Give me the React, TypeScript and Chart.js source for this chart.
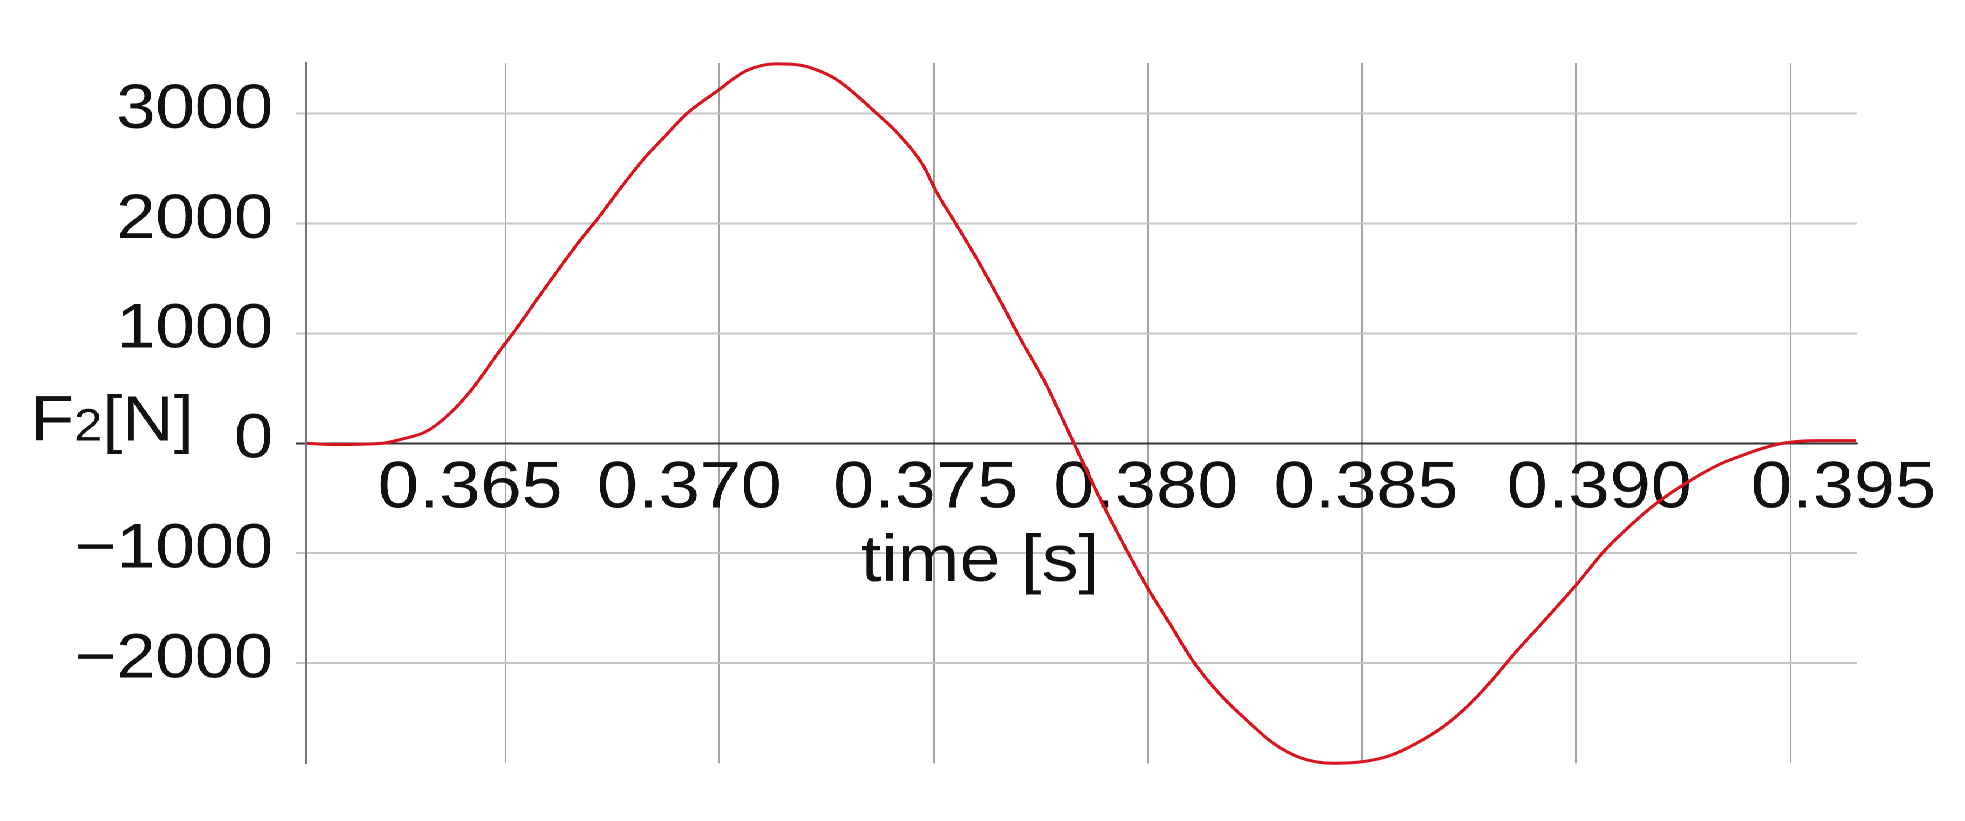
import { useEffect, useRef } from "react";
import { Chart, registerables } from "chart.js";

Chart.register(...registerables);

// time [s]
const times = [
	0.36037, 0.36098, 0.36214, 0.36254, 0.36316, 0.36371, 0.36424, 0.36487,
	0.36518, 0.36596, 0.36674, 0.36717, 0.36768, 0.36822, 0.36877, 0.36923,
	0.36993, 0.37063, 0.37133, 0.37188, 0.3725, 0.37281, 0.37359, 0.37421,
	0.37476, 0.37507, 0.37553, 0.37608, 0.3767, 0.37701, 0.37764, 0.37795,
	0.37828, 0.37888, 0.37942, 0.37997, 0.38051, 0.38106, 0.38165, 0.38228,
	0.38293, 0.38355, 0.38433, 0.38503, 0.38565, 0.38627, 0.38689, 0.38744,
	0.388, 0.38861, 0.38931, 0.39001, 0.39063, 0.39102, 0.3918, 0.39258,
	0.39335, 0.39374, 0.39436, 0.39483, 0.39561, 0.39654,
];

// F2 [N]
const forces = [
	0, -12, 0, 33, 108, 272, 500, 840,
	1000, 1428, 1842, 2049, 2315, 2581, 2810, 2996,
	3200, 3390, 3452, 3441, 3360, 3290, 3030, 2800,
	2525, 2285, 1990, 1630, 1190, 961, 525, 270,
	-5, -500, -910, -1300, -1640, -1985, -2270, -2510,
	-2730, -2860, -2912, -2896, -2842, -2730, -2580, -2400,
	-2170, -1890, -1590, -1283, -990, -836, -567, -358,
	-190, -130, -45, 0, 24, 24,
];

const xTicks = [0.365, 0.37, 0.375, 0.38, 0.385, 0.39, 0.395];
const yTicks = [-2000, -1000, 0, 1000, 2000, 3000];
const xRange = [0.360345, 0.396551];
const yRange = [-2911, 3460];

const FONT = '"Liberation Sans", Arial, sans-serif';
const STRETCH = 1.12; // source picture is a little wider than tall
// the x tick labels in the source sit a bit off their grid lines
const xLabelShift = [-35, -30, -8, -2, 4, 23, 53];

const fmtY = (v: number) => (v < 0 ? "\u2212" + Math.abs(v) : String(v));

const axisText = {
	id: "axisText",
	beforeDatasetsDraw(chart) {
		const { ctx } = chart;
		const xs = chart.scales.x;
		const y0 = chart.scales.y.getPixelForValue(0);
		ctx.save();
		ctx.fillStyle = "#111";
		ctx.textBaseline = "alphabetic";

		// x tick labels along the zero line
		ctx.font = `66px ${FONT}`;
		ctx.textAlign = "center";
		xs.ticks.forEach((t, i) => {
			const px = xs.getPixelForValue(t.value) + (xLabelShift[i] || 0) / STRETCH;
			ctx.fillText(Number(t.value).toFixed(3), px, y0 + 64);
		});

		ctx.fillText("time [s]", 875, 581);

		// F2[N]
		ctx.textAlign = "left";
		let x = 27;
		const base = y0 - 3;
		ctx.font = `64px ${FONT}`;
		ctx.fillText("F", x, base);
		x += ctx.measureText("F").width;
		ctx.font = `45px ${FONT}`;
		ctx.fillText("2", x, base);
		x += ctx.measureText("2").width;
		ctx.font = `64px ${FONT}`;
		ctx.fillText("[N]", x, base);
		ctx.restore();
	},
};

const ForceChart = () => {
	const chartRef = useRef<HTMLCanvasElement | null>(null);

	useEffect(() => {
		const chart = new Chart(chartRef.current, {
			type: "line",
			data: {
				datasets: [
					{
						data: times.map((t, i) => ({ x: t, y: forces[i] })),
						borderColor: "#d8141e",
						borderWidth: 3,
						pointRadius: 0,
						cubicInterpolationMode: "monotone",
						fill: false,
						clip: false,
					},
				],
			},
			options: {
				animation: false,
				responsive: true,
				maintainAspectRatio: false,
				devicePixelRatio: 2,
				layout: { padding: { left: 0, right: 96, top: 63, bottom: 48 } },
				plugins: { legend: { display: false }, tooltip: { enabled: false } },
				scales: {
					x: {
						type: "linear",
						position: { y: 0 },
						min: xRange[0],
						max: xRange[1],
						afterBuildTicks: (scale) => {
							scale.ticks = xTicks.map((v) => ({ value: v }));
						},
						grid: { color: "#a2a2a2", lineWidth: 1.5, drawTicks: false },
						border: { display: true, color: "#333", width: 1.5 },
						ticks: { display: false },
					},
					y: {
						type: "linear",
						min: yRange[0],
						max: yRange[1],
						afterFit: (scale) => {
							scale.width = 273;
						},
						afterBuildTicks: (scale) => {
							scale.ticks = yTicks.map((v) => ({ value: v }));
						},
						grid: {
							color: (c) => (c.tick && c.tick.value === 0 ? "#333" : "#c6c6c6"),
							lineWidth: 2,
							tickLength: 9,
						},
						border: { display: true, color: "#777", width: 2 },
						ticks: {
							autoSkip: false,
							padding: 20,
							labelOffset: -3,
							color: "#111",
							font: { family: FONT, size: 63 },
							callback: (v) => fmtY(Number(v)),
						},
					},
				},
			},
			plugins: [axisText],
		});

		return () => {
			chart.destroy();
		};
	}, []);

	return (
		<div
			style={{
				position: "fixed",
				left: 0,
				top: 0,
				width: 1754,
				height: 821,
				background: "#fff",
				transform: `scaleX(${STRETCH})`,
				transformOrigin: "0 0",
			}}
		>
			<canvas ref={chartRef} />
		</div>
	);
};

export default function App() {
	return <ForceChart />;
}
